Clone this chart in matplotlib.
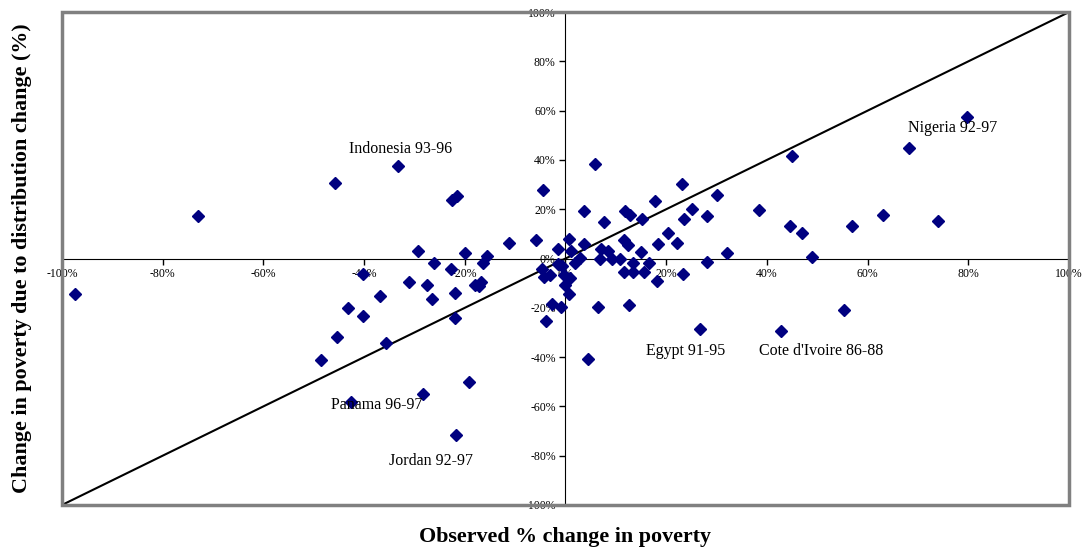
import matplotlib.pyplot as plt
from matplotlib.patches import Rectangle
from matplotlib.ticker import PercentFormatter

# observed % change in poverty vs change due to distribution (%)
obs = [-97.5, -73.0, -48.6, -45.8, -45.3, -43.2, -42.5, -40.3, -40.3, -36.9,
       -35.6, -33.2, -31.1, -29.2, -28.3, -27.5, -26.6, -26.2, -22.8, -22.5,
       -22.0, -21.9, -21.8, -21.5, -19.9, -19.2, -18.0, -17.2, -16.8, -16.4,
       -15.6, -11.3, -5.8, -4.5, -4.6, -4.3, -3.0, -3.8, -2.7, -1.5,
       -1.5, -0.7, -0.8, -0.2, 0.0, 0.8, 0.9, 0.7, 1.2, 1.9,
       2.9, 3.6, 3.7, 4.4, 5.8, 6.4, 7.0, 8.4, 6.8, 7.6,
       9.3, 10.8, 11.6, 12.5, 11.8, 12.9, 11.6, 13.4, 15.6, 13.4,
       16.6, 12.7, 15.0, 15.2, 17.7, 18.4, 18.2, 20.3, 22.1, 23.1,
       23.5, 23.4, 25.1, 26.8, 28.2, 28.2, 30.2, 32.0, 38.4, 42.8,
       44.6, 45.0, 47.0, 48.9, 55.4, 56.9, 63.1, 68.2, 74.0, 79.8]
dist = [-14.2, 17.2, -41.3, 30.7, -32.0, -20.1, -58.3, -6.4, -23.2, -15.0,
        -34.3, 37.6, -9.6, 3.0, -55.1, -10.6, -16.3, -2.0, -4.2, 23.9,
        -24.3, -14.1, -71.8, 25.4, 2.2, -49.9, -10.7, -11.2, -9.5, -2.0,
        0.9, 6.5, 7.7, 28.0, -4.1, -7.6, -6.8, -25.4, -18.5, 3.7,
        -2.2, -3.1, -19.5, -6.8, -10.9, -14.3, -7.7, 8.1, 3.1, -2.0,
        0.4, 19.4, 5.8, -40.9, 38.3, -19.8, 3.9, 3.1, 0.0, 14.8,
        0.0, 0.0, 7.5, 5.7, 19.4, 17.6, -5.3, -5.6, -5.4, -1.7,
        -2.0, -19.0, 2.6, 16.1, 23.3, 6.0, -9.2, 10.3, 6.5, 30.4,
        16.0, -6.4, 20.3, -28.5, 17.2, -1.5, 25.7, 2.2, 19.9, -29.4,
        13.3, 41.7, 10.4, 0.7, -20.8, 13.1, 17.5, 44.8, 15.2, 57.4]

labels = ["Indonesia 93-96", "Nigeria 92-97", "Panama 96-97", "Jordan 92-97",
          "Egypt 91-95", "Cote d'Ivoire 86-88"]
label_x = [-32.8, 77.0, -37.4, -26.7, 23.8, 50.8]
label_y = [44.6, 52.8, -59.3, -82.3, -37.6, -37.6]

plt.rcParams['font.family'] = ['Liberation Serif', 'DejaVu Serif']
plt.rcParams['axes.unicode_minus'] = False

fig = plt.figure(figsize=(10.83, 5.51), dpi=100)
ax = fig.add_axes([0.0572, 0.0835, 0.9298, 0.8945])

ax.plot([-100, 100], [-100, 100], color='black', lw=1.5, zorder=2)
ax.plot(obs, dist, linestyle='none', marker='D', ms=6, color='#000080', zorder=3)

for t, x, y in zip(labels, label_x, label_y):
    ax.text(x, y, t, ha='center', va='center', fontsize=11.5)

ax.set_xlim(-100, 100)
ax.set_ylim(-100, 100)
ax.spines['left'].set_position('zero')
ax.spines['bottom'].set_position('zero')
ax.spines['top'].set_visible(False)
ax.spines['right'].set_visible(False)
ax.spines['left'].set_zorder(1)
ax.spines['bottom'].set_zorder(1)
ax.set_xticks(range(-100, 101, 20))
ax.set_yticks(range(-100, 101, 20))
ax.xaxis.set_major_formatter(PercentFormatter(decimals=0))
ax.yaxis.set_major_formatter(PercentFormatter(decimals=0))
ax.tick_params(direction='out', length=4, width=1, labelsize=8.5, pad=3)
ax.add_patch(Rectangle((0, 0), 1, 1, transform=ax.transAxes, fill=False,
                       ec='#808080', lw=2.5, clip_on=False, zorder=4))

fig.text(0.522, 0.0254, 'Observed % change in poverty', ha='center', va='center',
         fontsize=15.8, fontweight='bold')
fig.text(0.0203, 0.532, 'Change in poverty due to distribution change (%)',
         ha='center', va='center', rotation=90, fontsize=15.8, fontweight='bold')

fig.savefig('out.png', dpi=100)
